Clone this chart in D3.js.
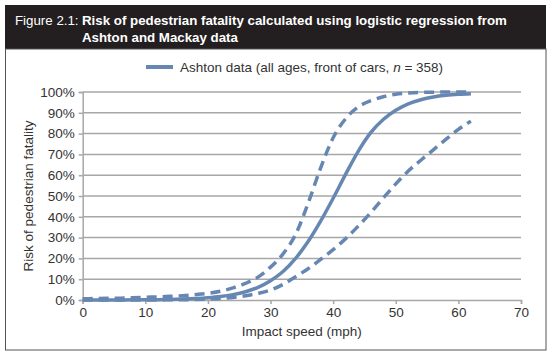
<!DOCTYPE html>
<html><head><meta charset="utf-8">
<script src="https://cdn.jsdelivr.net/npm/d3@7"></script>
<style>body{margin:0;background:#fff;}svg{display:block;font-family:"Liberation Sans",Arial,sans-serif;}</style>
</head><body>
<svg id="c" width="552" height="357"></svg>
<script>
const speeds = [0,2,4,6,8,10,12,14,16,18,20,22,24,26,28,30,32,34,36,38,40,42,44,46,48,50,52,54,56,58,60,62];
const riskMain = [0.0001,0.0002,0.0003,0.0005,0.0007,0.0012,0.0018,0.0028,0.0044,0.0069,0.0108,0.0166,0.0259,0.0399,0.061,0.093,0.137,0.200,0.281,0.379,0.489,0.605,0.715,0.805,0.868,0.912,0.943,0.963,0.976,0.984,0.989,0.992];
const riskUpper = [0.006,0.007,0.008,0.009,0.011,0.013,0.015,0.018,0.021,0.026,0.032,0.042,0.058,0.080,0.110,0.158,0.222,0.315,0.465,0.635,0.78,0.872,0.928,0.958,0.977,0.989,0.995,0.998,0.999,1.0,1.0,1.0];
const riskLower = [0.0001,0.0001,0.0001,0.0001,0.0002,0.0003,0.0005,0.0008,0.0013,0.002,0.004,0.007,0.012,0.020,0.032,0.048,0.075,0.112,0.150,0.195,0.242,0.295,0.355,0.42,0.49,0.558,0.62,0.672,0.722,0.772,0.82,0.86];
const xTicks = [0,10,20,30,40,50,60,70];
const yTicks = [0,0.1,0.2,0.3,0.4,0.5,0.6,0.7,0.8,0.9,1.0];
const titleLabel = "Figure 2.1:";
const titleLines = ["Risk of pedestrian fatality calculated using logistic regression from","Ashton and Mackay data"];
const legendLabel = ["Ashton data (all ages, front of cars, ", "n", " = 358)"];
const xTitle = "Impact speed (mph)";
const yTitle = "Risk of pedestrian fatality";

const svg = d3.select("#c");
const col = "#6787b3";
const grid = "#a7a7a7";

// frame
svg.append("rect").attr("x",5).attr("y",5).attr("width",541).attr("height",44).attr("fill","#231f20");
svg.append("rect").attr("x",5.5).attr("y",49).attr("width",540.5).attr("height",301).attr("fill","none").attr("stroke","#555").attr("stroke-width",1);

// title
const t1 = svg.append("text").attr("x",15).attr("y",25).attr("fill","#fff").attr("font-size",13.3);
t1.append("tspan").text(titleLabel);
t1.append("tspan").attr("x",82).attr("font-weight","bold").text(titleLines[0]);
svg.append("text").attr("x",82).attr("y",42).attr("fill","#fff").attr("font-size",13.3).attr("font-weight","bold").text(titleLines[1]);

const x = d3.scaleLinear().domain([0,70]).range([82.7,521]);
const y = d3.scaleLinear().domain([0,1]).range([300,92]);

// grid
svg.append("g").selectAll("line").data(yTicks.slice(1)).join("line")
  .attr("x1",x(0)).attr("x2",x(70)).attr("y1",d=>y(d)).attr("y2",d=>y(d))
  .attr("stroke",grid).attr("stroke-width",1.5);

// axes
const yAxis = svg.append("g").attr("transform",`translate(${x(0)},0)`)
  .call(d3.axisLeft(y).tickValues(yTicks).tickFormat(d=>Math.round(d*100)+"%").tickSize(4).tickPadding(4));
const xAxis = svg.append("g").attr("transform",`translate(0,${y(0)})`)
  .call(d3.axisBottom(x).tickValues(xTicks).tickSize(4).tickPadding(3));
[yAxis,xAxis].forEach(a=>{
  a.select(".domain").attr("stroke",grid).attr("stroke-width",1.5);
  a.selectAll(".tick line").attr("stroke",grid).attr("stroke-width",1.5);
  a.selectAll(".tick text").attr("fill","#333").attr("font-size",13.5).attr("font-family","Liberation Sans, Arial, sans-serif");
});

// axis titles
svg.append("text").attr("x",x(35)).attr("y",336).attr("text-anchor","middle").attr("font-size",13.5).attr("fill","#333").text(xTitle);
svg.append("text").attr("transform",`translate(33,${y(0.5)}) rotate(-90)`).attr("text-anchor","middle").attr("font-size",13.5).attr("fill","#333").text(yTitle);

// lines
const line = d3.line().x((d,i)=>x(speeds[i])).y(d=>y(d)).curve(d3.curveMonotoneX);
svg.append("path").datum(riskUpper).attr("d",line).attr("fill","none").attr("stroke",col).attr("stroke-width",3.5).attr("stroke-dasharray","10,6");
svg.append("path").datum(riskLower).attr("d",line).attr("fill","none").attr("stroke",col).attr("stroke-width",3.5).attr("stroke-dasharray","10,6");
svg.append("path").datum(riskMain).attr("d",line).attr("fill","none").attr("stroke",col).attr("stroke-width",3.5);

// legend
svg.append("line").attr("x1",146).attr("x2",173).attr("y1",67).attr("y2",67).attr("stroke",col).attr("stroke-width",4);
const lt = svg.append("text").attr("x",180).attr("y",72).attr("font-size",13.5).attr("fill","#333");
lt.append("tspan").text(legendLabel[0]);
lt.append("tspan").attr("font-style","italic").text(legendLabel[1]);
lt.append("tspan").text(legendLabel[2]);
</script>
</body></html>
